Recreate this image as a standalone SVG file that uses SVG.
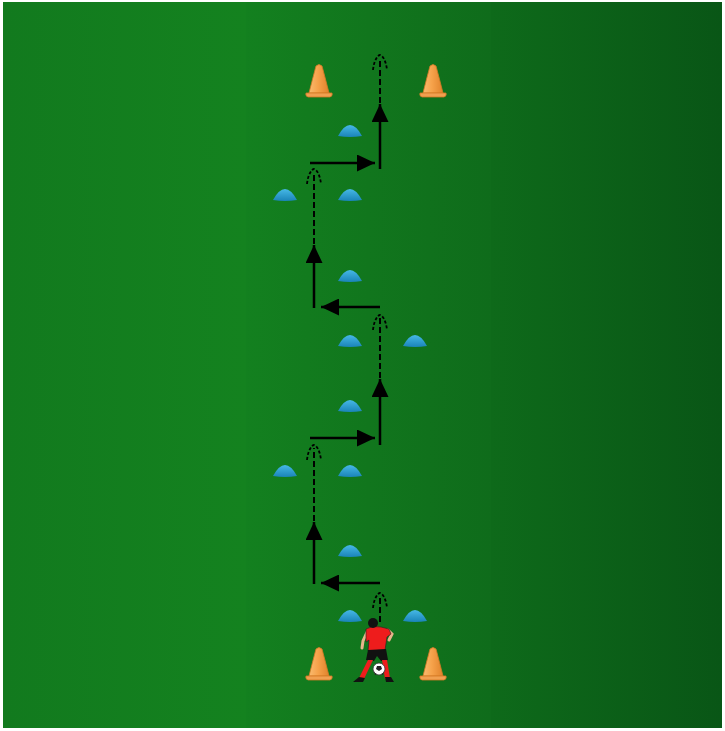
<svg xmlns="http://www.w3.org/2000/svg" width="725" height="731" viewBox="0 0 725 731">
  <style>
    .line { stroke: #000; stroke-width: 2.5; fill: none; }
    .run { stroke: #000; stroke-width: 2; fill: none; stroke-dasharray: 6 3; }
    .runhead { stroke: #000; stroke-width: 1.8; fill: none; stroke-dasharray: 3 2; }
  </style>
  <defs>
    <linearGradient id="band1" x1="0" y1="0" x2="1" y2="0">
      <stop offset="0" stop-color="#127a1e"/>
      <stop offset="1" stop-color="#14821f"/>
    </linearGradient>
    <linearGradient id="band2" x1="0" y1="0" x2="1" y2="0">
      <stop offset="0" stop-color="#13801f"/>
      <stop offset="1" stop-color="#0f6c1b"/>
    </linearGradient>
    <linearGradient id="band3" x1="0" y1="0" x2="1" y2="0">
      <stop offset="0" stop-color="#0e6a1a"/>
      <stop offset="1" stop-color="#095616"/>
    </linearGradient>
    <linearGradient id="coneFill" x1="0" y1="0" x2="1" y2="0">
      <stop offset="0" stop-color="#f9bb70"/>
      <stop offset="0.45" stop-color="#f6a24a"/>
      <stop offset="1" stop-color="#e0822c"/>
    </linearGradient>
    <linearGradient id="discFill" x1="0" y1="0" x2="0" y2="1">
      <stop offset="0" stop-color="#46b8e6"/>
      <stop offset="1" stop-color="#1a84b8"/>
    </linearGradient>
    <marker id="head" viewBox="0 0 18 17" refX="18" refY="8.5" markerWidth="18" markerHeight="17" markerUnits="userSpaceOnUse" orient="auto">
      <path d="M0,0 L18,8.5 L0,17 Z" fill="#000"/>
    </marker>
    <!-- training cone, origin at base centre -->
    <g id="cone">
      <path d="M-3,-31 Q0,-34 3,-31 Q7,-16 10,-4 L-10,-4 Q-7,-16 -3,-31 Z" fill="url(#coneFill)" stroke="#d47a24" stroke-width="0.8"/>
      <path d="M-13,-4 L13,-4 Q14,-1 11,0 L-11,0 Q-14,-1 -13,-4 Z" fill="#f1a050" stroke="#d47a24" stroke-width="0.8"/>
    </g>
    <!-- flat marker disc, origin at base centre -->
    <g id="disc">
      <path d="M-12,0 Q-6,-11 0,-11 Q6,-11 12,0 Q0,2 -12,0 Z" fill="url(#discFill)"/>
    </g>
    <!-- dashed run arrowhead, origin at tip -->
    <path id="runTip" class="runhead" d="M-7,15 C-6,5 -2,0 0,0 C2,0 6,5 7,15"/>
  </defs>

  <!-- pitch -->
  <rect x="0" y="0" width="725" height="731" fill="#ffffff"/>
  <rect x="3" y="2" width="243" height="726" fill="url(#band1)"/>
  <rect x="246" y="2" width="245" height="726" fill="url(#band2)"/>
  <rect x="491" y="2" width="231" height="726" fill="url(#band3)"/>

  <!-- cones -->
  <g id="cone-top-left"><use href="#cone" x="319" y="97"/></g>
  <g id="cone-top-right"><use href="#cone" x="433" y="97"/></g>
  <g id="cone-bottom-left"><use href="#cone" x="319" y="680"/></g>
  <g id="cone-bottom-right"><use href="#cone" x="433" y="680"/></g>

  <!-- marker discs -->
  <g id="disc-1"><use href="#disc" x="350" y="136"/></g>
  <g id="disc-2"><use href="#disc" x="285" y="200"/></g>
  <g id="disc-3"><use href="#disc" x="350" y="200"/></g>
  <g id="disc-4"><use href="#disc" x="350" y="281"/></g>
  <g id="disc-5"><use href="#disc" x="350" y="346"/></g>
  <g id="disc-6"><use href="#disc" x="415" y="346"/></g>
  <g id="disc-7"><use href="#disc" x="350" y="411"/></g>
  <g id="disc-8"><use href="#disc" x="285" y="476"/></g>
  <g id="disc-9"><use href="#disc" x="350" y="476"/></g>
  <g id="disc-10"><use href="#disc" x="350" y="556"/></g>
  <g id="disc-11"><use href="#disc" x="350" y="621"/></g>
  <g id="disc-12"><use href="#disc" x="415" y="621"/></g>

  <!-- movement paths -->
  <g id="connectors">
    <!-- runs (dashed) -->
    <line class="run" x1="380" y1="622" x2="380" y2="596"/>
    <use href="#runTip" x="380" y="593"/>
    <line class="run" x1="314" y1="521" x2="314" y2="448"/>
    <use href="#runTip" x="314" y="445"/>
    <line class="run" x1="380" y1="378" x2="380" y2="318"/>
    <use href="#runTip" x="380" y="315"/>
    <line class="run" x1="314" y1="244" x2="314" y2="172"/>
    <use href="#runTip" x="314" y="169"/>
    <line class="run" x1="380" y1="103" x2="380" y2="58"/>
    <use href="#runTip" x="380" y="55"/>

    <!-- moves (solid) -->
    <line class="line" x1="380" y1="583" x2="321" y2="583" marker-end="url(#head)"/>
    <line class="line" x1="314" y1="584" x2="314" y2="522" marker-end="url(#head)"/>
    <line class="line" x1="310" y1="438" x2="375" y2="438" marker-end="url(#head)"/>
    <line class="line" x1="380" y1="445" x2="380" y2="379" marker-end="url(#head)"/>
    <line class="line" x1="380" y1="307" x2="321" y2="307" marker-end="url(#head)"/>
    <line class="line" x1="314" y1="308" x2="314" y2="245" marker-end="url(#head)"/>
    <line class="line" x1="310" y1="163" x2="375" y2="163" marker-end="url(#head)"/>
    <line class="line" x1="380" y1="169" x2="380" y2="104" marker-end="url(#head)"/>
  </g>

  <!-- player with ball -->
  <g id="player">
    <!-- arms -->
    <path d="M368,630 L363,641 L362,648" stroke="#e8b48a" stroke-width="3" fill="none" stroke-linecap="round"/>
    <path d="M388,630 L392,634 L389,640" stroke="#e8b48a" stroke-width="3" fill="none" stroke-linecap="round"/>
    <!-- shirt -->
    <path d="M366,629 Q373,625 381,627 L389,629 L391,634 L387,637 L385,650 L368,651 L369,640 L366,642 Z" fill="#ee1c1c" stroke="#222" stroke-width="0.6"/>
    <!-- shorts -->
    <path d="M368,650 L386,649 L388,660 L381,661 L377,656 L374,661 L366,660 Z" fill="#111"/>
    <!-- legs / socks -->
    <path d="M368,660 L373,660 L364,679 L359,678 Z" fill="#ee1c1c"/>
    <path d="M382,660 L387,660 L390,678 L385,679 Z" fill="#ee1c1c"/>
    <!-- boots -->
    <path d="M359,677 L365,678 L363,682 L353,682 Z" fill="#111"/>
    <path d="M385,677 L391,677 L394,682 L386,682 Z" fill="#111"/>
    <!-- head -->
    <circle cx="373" cy="623" r="5" fill="#111"/>
    <!-- ball -->
    <circle cx="379" cy="669" r="6" fill="#ffffff" stroke="#333" stroke-width="0.8"/>
    <path d="M377,666 L381,666 L382,669 L379,671 L376,669 Z" fill="#222"/>
    <path d="M373.5,670 L375,673 L377,674 L375,675 Z" fill="#222"/>
    <path d="M384.5,670 L383,673 L381,674 L383,675 Z" fill="#222"/>
  </g>
</svg>
